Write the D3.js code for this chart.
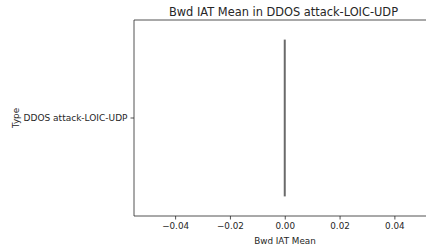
<!DOCTYPE html>
<html><head><meta charset="utf-8">
<script src="https://cdn.jsdelivr.net/npm/d3@7"></script>
<style>body{margin:0;background:#fff}text{font-family:"DejaVu Sans",sans-serif}</style>
</head><body><svg id="c" width="426" height="249"></svg>
<script>
const categories = ["DDOS attack-LOIC-UDP"];
const minValues = [0];
const q1Values = [0];
const medianValues = [0];
const q3Values = [0];
const maxValues = [0];
const xTicks = [-0.04, -0.02, 0.00, 0.02, 0.04];
const title = "Bwd IAT Mean in DDOS attack-LOIC-UDP";
const xLabel = "Bwd IAT Mean";
const yLabel = "Type";

const svg = d3.select("#c");
const m = {left:134, top:20, right:435.5, bottom:216};
const x = d3.scaleLinear().domain([-0.055, 0.055]).range([m.left, m.right]);
const y = d3.scaleBand().domain(categories).range([m.top, m.bottom]).padding(0);

const fmt = d => (d < 0 ? "\u2212" : "") + Math.abs(d).toFixed(2);
const ink = "#262626";

const xa = svg.append("g").attr("transform", `translate(0,${m.bottom})`)
  .call(d3.axisBottom(x).tickValues(xTicks).tickFormat(fmt).tickSize(3.5).tickPadding(3));
xa.select(".domain").remove();
xa.selectAll("text").attr("font-size", 8.8).attr("fill", ink);
xa.selectAll("line").attr("stroke", ink).attr("stroke-width", 0.8);

const ya = svg.append("g").attr("transform", `translate(${m.left},0)`)
  .call(d3.axisLeft(y).tickSize(3.5).tickPadding(3));
ya.select(".domain").remove();
ya.selectAll("text").attr("font-size", 9).attr("fill", ink);
ya.selectAll("line").attr("stroke", ink).attr("stroke-width", 0.8);

// spines
const sp = (x1, y1, x2, y2) => svg.append("line").attr("x1", x1).attr("y1", y1).attr("x2", x2).attr("y2", y2)
  .attr("stroke", ink).attr("stroke-width", 0.8);
sp(m.left, m.top, m.right, m.top);
sp(m.left, m.bottom, m.right, m.bottom);
sp(m.left, m.top, m.left, m.bottom);
sp(m.right, m.top, m.right, m.bottom);

// boxes
const bw = y.bandwidth() * 0.8;
const boxStroke = "#6a6a6a";
categories.forEach((c, i) => {
  const cy = y(c) + y.bandwidth() / 2;
  const g = svg.append("g");
  g.append("rect").attr("x", x(q1Values[i])).attr("y", cy - bw/2)
    .attr("width", Math.max(0, x(q3Values[i]) - x(q1Values[i]))).attr("height", bw)
    .attr("fill", "#3274a1").attr("stroke", boxStroke).attr("stroke-width", 2);
  g.append("line").attr("x1", x(medianValues[i])).attr("x2", x(medianValues[i]))
    .attr("y1", cy - bw/2).attr("y2", cy + bw/2).attr("stroke", boxStroke).attr("stroke-width", 2);
  g.append("line").attr("x1", x(minValues[i])).attr("x2", x(q1Values[i])).attr("y1", cy).attr("y2", cy).attr("stroke", boxStroke).attr("stroke-width", 2);
  g.append("line").attr("x1", x(q3Values[i])).attr("x2", x(maxValues[i])).attr("y1", cy).attr("y2", cy).attr("stroke", boxStroke).attr("stroke-width", 2);
});

svg.append("text").attr("x", 283.5).attr("y", 16).attr("text-anchor", "middle")
  .attr("font-size", 11.4).attr("fill", ink).text(title);
svg.append("text").attr("x", 285).attr("y", 243.5).attr("text-anchor", "middle")
  .attr("font-size", 8.8).attr("fill", ink).text(xLabel);
svg.append("text").attr("transform", `translate(19,${(m.top + m.bottom) / 2}) rotate(-90)`).attr("text-anchor", "middle")
  .attr("font-size", 8.8).attr("fill", ink).text(yLabel);
</script></body></html>
